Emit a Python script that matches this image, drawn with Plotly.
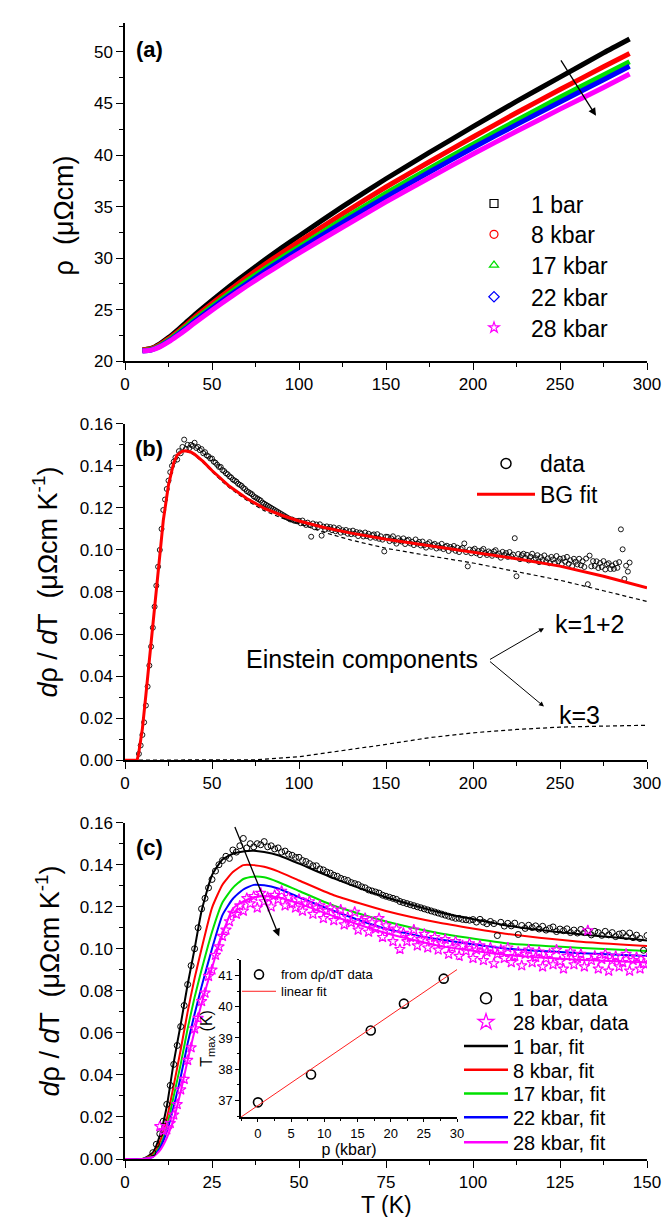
import plotly.graph_objects as go

# ---------------- Panel (a): rho(T) ----------------
T_a = [10, 15, 20, 25, 30, 35, 40, 50, 60, 70, 80, 90, 100, 125, 150, 175, 200, 225, 250, 275, 290]
rho_1bar = [21.1, 21.25, 21.7, 22.3, 23.0, 23.75, 24.5, 25.9, 27.25, 28.55, 29.8, 31.0, 32.15, 35.0, 37.7, 40.25, 42.75, 45.2, 47.55, 49.9, 51.25]
rho_8kbar = [21.1, 21.22, 21.62, 22.18, 22.83, 23.53, 24.25, 25.6, 26.9, 28.15, 29.35, 30.5, 31.6, 34.3, 36.9, 39.35, 41.75, 44.1, 46.35, 48.55, 49.85]
rho_17kbar = [21.05, 21.15, 21.52, 22.05, 22.68, 23.35, 24.05, 25.35, 26.6, 27.8, 28.95, 30.05, 31.1, 33.75, 36.3, 38.7, 41.05, 43.35, 45.6, 47.75, 49.05]
rho_22kbar = [21.0, 21.1, 21.45, 21.95, 22.55, 23.2, 23.88, 25.15, 26.38, 27.55, 28.7, 29.8, 30.85, 33.45, 35.95, 38.35, 40.7, 42.95, 45.15, 47.3, 48.6]
rho_28kbar = [21.0, 21.08, 21.4, 21.88, 22.45, 23.07, 23.72, 24.95, 26.15, 27.3, 28.4, 29.45, 30.5, 33.0, 35.45, 37.8, 40.1, 42.3, 44.45, 46.55, 47.85]
labels_a = ["1 bar", "8 kbar", "17 kbar", "22 kbar", "28 kbar"]

# ---------------- Panel (b)/(c): 1 bar drho/dT data (T = 8 ... 290 K, 1 K steps) ----------------
T_1bar = list(range(8, 291))
d_1bar = [
    # 8-17
    0.003, 0.007, 0.012, 0.018, 0.026, 0.035, 0.045, 0.054, 0.063, 0.073,
    # 18-27
    0.083, 0.092, 0.100, 0.110, 0.119, 0.124, 0.129, 0.133, 0.137, 0.140,
    # 28-37
    0.142, 0.144, 0.143, 0.147, 0.146, 0.149, 0.1525, 0.148, 0.150, 0.1485,
    # 38-47
    0.150, 0.1495, 0.151, 0.1485, 0.149, 0.1475, 0.148, 0.146, 0.1465, 0.145,
    # 48-57
    0.1445, 0.1435, 0.1435, 0.142, 0.1415, 0.1405, 0.1395, 0.1395, 0.138, 0.1375,
    # 58-67
    0.1365, 0.136, 0.135, 0.1345, 0.1335, 0.133, 0.1325, 0.1315, 0.131, 0.1305,
    # 68-77
    0.1295, 0.129, 0.128, 0.1275, 0.127, 0.1265, 0.1255, 0.125, 0.1245, 0.124,
    # 78-87
    0.1235, 0.1225, 0.122, 0.1215, 0.121, 0.1205, 0.120, 0.1195, 0.119, 0.1185,
    # 88-99
    0.118, 0.1175, 0.117, 0.1165, 0.116, 0.1155, 0.115, 0.1145, 0.1145, 0.114, 0.1138, 0.1136,
    # 100-109
    0.1139, 0.1127, 0.1140, 0.1127, 0.1119, 0.1130, 0.1120, 0.1063, 0.1126, 0.1108,
    # 110-119
    0.1121, 0.1109, 0.1122, 0.1068, 0.1111, 0.1097, 0.1112, 0.1101, 0.1109, 0.1094,
    # 120-129
    0.1107, 0.1089, 0.1097, 0.1104, 0.1082, 0.1094, 0.1086, 0.1095, 0.1077, 0.1089,
    # 130-139
    0.1075, 0.1092, 0.1077, 0.1085, 0.1066, 0.1083, 0.1077, 0.1064, 0.1083, 0.1066,
    # 140-150
    0.1077, 0.1058, 0.1070, 0.1074, 0.1058, 0.1075, 0.1053, 0.1065, 0.1049, 0.0993, 0.1063,
    # 151-160
    0.1062, 0.1042, 0.1055, 0.1065, 0.1043, 0.1030, 0.1056, 0.1045, 0.1040, 0.1055,
    # 161-170
    0.1028, 0.1045, 0.1049, 0.1031, 0.1039, 0.1023, 0.1050, 0.1030, 0.1038, 0.1021,
    # 171-180
    0.1040, 0.1023, 0.1011, 0.1029, 0.1037, 0.1015, 0.1024, 0.1029, 0.1007, 0.1021,
    # 181-190
    0.1011, 0.1029, 0.1004, 0.1015, 0.1020, 0.0995, 0.1014, 0.1006, 0.1019, 0.0996,
    # 191-200
    0.1011, 0.0990, 0.1004, 0.1010, 0.1031, 0.0990, 0.0922, 0.1002, 0.0984, 0.0999,
    # 201-210
    0.1006, 0.0984, 0.0995, 0.0975, 0.0998, 0.1005, 0.0985, 0.0976, 0.0993, 0.0986,
    # 211-220
    0.0972, 0.0993, 0.0999, 0.0975, 0.0983, 0.0963, 0.0991, 0.0976, 0.0985, 0.0967,
    # 221-230
    0.0990, 0.0970, 0.0978, 0.1056, 0.0875, 0.0981, 0.0956, 0.0975, 0.0982, 0.0962,
    # 231-240
    0.0977, 0.0950, 0.0968, 0.0982, 0.0954, 0.0961, 0.0975, 0.0942, 0.0966, 0.0952,
    # 241-250
    0.0974, 0.0946, 0.0960, 0.0937, 0.0967, 0.0955, 0.0939, 0.0971, 0.0946, 0.0958,
    # 251-260
    0.0932, 0.0961, 0.0944, 0.0967, 0.0934, 0.0951, 0.0923, 0.0958, 0.0944, 0.0931,
    # 261-270
    0.0958, 0.0927, 0.0946, 0.0919, 0.0959, 0.0837, 0.0973, 0.0922, 0.0947, 0.0924,
    # 271-280
    0.0946, 0.0914, 0.0938, 0.0919, 0.0947, 0.0907, 0.0932, 0.0937, 0.0909, 0.0926,
    # 281-290
    0.0910, 0.0936, 0.0915, 0.0942, 0.1098, 0.1003, 0.0862, 0.0925, 0.0897, 0.0940,
]

# BG fit and Einstein components (panel b)
T_bg = [0, 5, 7, 8, 10, 12, 15, 18, 20, 22, 25, 28, 30, 33, 35, 38, 40, 45, 50, 55, 60, 70, 80, 90, 100, 115, 130, 150, 175, 200, 225, 250, 275, 300]
bg_fit = [0, 0, 0, 0.004, 0.015, 0.031, 0.056, 0.083, 0.100, 0.114, 0.131, 0.1415, 0.1452, 0.1470, 0.1472, 0.1465, 0.1455, 0.142, 0.1378, 0.1338, 0.1303, 0.1245, 0.1198, 0.1165, 0.1138, 0.1106, 0.108, 0.1051, 0.102, 0.0990, 0.0958, 0.0923, 0.0875, 0.082]
ein_k12 = [0, 0, 0, 0.004, 0.015, 0.031, 0.056, 0.083, 0.100, 0.114, 0.131, 0.1415, 0.1452, 0.1468, 0.1469, 0.1461, 0.145, 0.1415, 0.1373, 0.1332, 0.1296, 0.1236, 0.1187, 0.1152, 0.1125, 0.1082, 0.1047, 0.1008, 0.0972, 0.0938, 0.0897, 0.0856, 0.0806, 0.0755]
T_k3 = [0, 50, 75, 100, 125, 150, 175, 200, 225, 250, 275, 300]
ein_k3 = [0, 0, 0.0002, 0.0016, 0.0044, 0.0075, 0.0107, 0.013, 0.0146, 0.0157, 0.0162, 0.0166]

# ---------------- Panel (c): 28 kbar data and fits ----------------
T_28 = list(range(10, 151))
d_28 = [
    # 10-19
    0.0155, 0.0135, 0.014, 0.017, 0.021, 0.026, 0.033, 0.038, 0.047, 0.053,
    # 20-29
    0.062, 0.067, 0.075, 0.079, 0.087, 0.090, 0.097, 0.101, 0.106, 0.109,
    # 30-39
    0.113, 0.117, 0.1165, 0.1205, 0.118, 0.124, 0.1215, 0.125, 0.1195, 0.1265,
    # 40-49
    0.1225, 0.1245, 0.120, 0.1255, 0.1235, 0.1275, 0.1205, 0.1245, 0.1215, 0.1195,
    # 50-59
    0.1235, 0.118, 0.1215, 0.1225, 0.1165, 0.1195, 0.1205, 0.1145, 0.118, 0.1195,
    # 60-69
    0.1135, 0.1165, 0.1185, 0.1115, 0.115, 0.1125, 0.1175, 0.109, 0.1135, 0.1145,
    # 70-79
    0.108, 0.1125, 0.1095, 0.1145, 0.1055, 0.111, 0.1085, 0.1035, 0.1095, 0.0998,
    # 80-89
    0.1075, 0.1035, 0.1055, 0.109, 0.1015, 0.1045, 0.107, 0.1005, 0.1035, 0.1055,
    # 90-99
    0.0995, 0.1025, 0.1045, 0.0975, 0.1005, 0.1035, 0.0965, 0.1015, 0.099, 0.1025,
    # 100-109
    0.0955, 0.0995, 0.1015, 0.0945, 0.0985, 0.1005, 0.093, 0.0975, 0.0995, 0.0955,
    # 110-119
    0.1005, 0.0935, 0.0965, 0.0985, 0.092, 0.0975, 0.0995, 0.0935, 0.096, 0.0985,
    # 120-129
    0.0915, 0.0955, 0.0975, 0.0925, 0.0995, 0.094, 0.0905, 0.0965, 0.0985, 0.0925,
    # 130-139
    0.0955, 0.0975, 0.0915, 0.1087, 0.0945, 0.0965, 0.0905, 0.095, 0.0975, 0.0895,
    # 140-150
    0.0945, 0.0965, 0.0915, 0.0935, 0.0975, 0.0895, 0.0945, 0.096, 0.0905, 0.093, 0.0955,
]

T_fit = [0, 5, 8, 10, 12, 14, 16, 18, 20, 22, 25, 28, 31, 34, 37, 40, 44, 50, 60, 75, 90, 110, 130, 150]
fit_1bar = [0, 0, 0.003, 0.011, 0.025, 0.046, 0.064, 0.083, 0.100, 0.118, 0.135, 0.1425, 0.1452, 0.1463, 0.1466, 0.146, 0.1445, 0.1405, 0.1335, 0.1245, 0.1175, 0.111, 0.107, 0.104]
fit_8kbar = [0, 0, 0.002, 0.008, 0.019, 0.035, 0.052, 0.070, 0.086, 0.100, 0.1195, 0.1305, 0.1365, 0.1398, 0.1398, 0.139, 0.1368, 0.1325, 0.1255, 0.118, 0.1125, 0.107, 0.1035, 0.1013]
fit_17kbar = [0, 0, 0.0015, 0.006, 0.015, 0.030, 0.045, 0.062, 0.077, 0.090, 0.108, 0.122, 0.129, 0.1332, 0.1343, 0.134, 0.1318, 0.1275, 0.1205, 0.113, 0.1075, 0.1025, 0.1005, 0.099]
fit_22kbar = [0, 0, 0.001, 0.005, 0.013, 0.025, 0.039, 0.055, 0.069, 0.082, 0.100, 0.116, 0.1238, 0.1282, 0.1304, 0.1302, 0.1287, 0.1245, 0.118, 0.1095, 0.1045, 0.100, 0.098, 0.0966]
fit_28kbar = [0, 0, 0.001, 0.004, 0.010, 0.019, 0.032, 0.047, 0.061, 0.074, 0.091, 0.107, 0.119, 0.1225, 0.1245, 0.125, 0.1245, 0.1215, 0.1155, 0.1075, 0.1015, 0.097, 0.0948, 0.0935]
labels_c_fit = ["1 bar, fit", "8 kbar, fit", "17 kbar, fit", "22 kbar, fit", "28 kbar, fit"]

# ---------------- Inset: Tmax vs p ----------------
p_kbar = [0, 8, 17, 22, 28]
Tmax = [36.94, 37.83, 39.24, 40.10, 40.90]
fit_p = [-2.56, 30]
fit_intercept = 36.84
fit_slope = 0.145

# ---------------- styling ----------------
FONT = "Arial, Liberation Sans, Helvetica, sans-serif"
colors = ["#000000", "#ff0000", "#00e000", "#0000ff", "#ff00ff"]
symbols = ["square-open", "circle-open", "triangle-up-open", "diamond-open", "star-open"]

W, H = 672, 1217
ML, MR, MT, MB = 117, 33, 6, 66
PW, PH = W - ML - MR, H - MT - MB


def px(xp):
    return (xp - ML) / PW


def py(yp):
    return 1 - (yp - MT) / PH


fig = go.Figure()
legends = {}
leg_count = [0]


def new_legend(left, center, size, itemwidth):
    leg_count[0] += 1
    name = "legend" if leg_count[0] == 1 else "legend%d" % leg_count[0]
    legends[name] = dict(x=px(left), y=py(center), xanchor="left", yanchor="middle", bgcolor="rgba(0,0,0,0)",
                         borderwidth=0, itemwidth=itemwidth, font=dict(family=FONT, size=size, color="black"))
    return name


# panel a
for rho, c in zip([rho_1bar, rho_8kbar, rho_17kbar, rho_22kbar, rho_28kbar], colors):
    fig.add_trace(go.Scatter(x=T_a, y=rho, mode="lines", line=dict(color=c, width=5, shape="spline", smoothing=0.6),
                             showlegend=False, xaxis="x", yaxis="y"))
for c, lab, sym, row in zip(colors, labels_a, symbols, [188, 219, 250, 282, 313]):
    fig.add_trace(go.Scatter(x=[None], y=[None], mode="markers", name=lab,
                             marker=dict(symbol=sym, color=c, size=8, line=dict(width=1.2, color=c)),
                             legend=new_legend(449, row, 23, 64), xaxis="x", yaxis="y"))

# panel b
fig.add_trace(go.Scatter(x=T_bg, y=ein_k12, mode="lines", line=dict(color="black", width=1.2, dash="4px,3px"),
                         showlegend=False, xaxis="x2", yaxis="y2"))
fig.add_trace(go.Scatter(x=T_k3, y=ein_k3, mode="lines", line=dict(color="black", width=1.2, dash="4px,3px"),
                         showlegend=False, xaxis="x2", yaxis="y2"))
fig.add_trace(go.Scatter(x=T_1bar, y=d_1bar, mode="markers",
                         marker=dict(symbol="circle-open", color="black", size=5, line=dict(width=0.9)),
                         showlegend=False, xaxis="x2", yaxis="y2"))
fig.add_trace(go.Scatter(x=T_bg, y=bg_fit, mode="lines", line=dict(color="#ff0000", width=3),
                         showlegend=False, xaxis="x2", yaxis="y2"))
fig.add_trace(go.Scatter(x=[None], y=[None], mode="markers", name="data",
                         marker=dict(symbol="circle-open", color="black", size=10, line=dict(width=1.5)),
                         legend=new_legend(464, 450, 23, 58), xaxis="x2", yaxis="y2"))
fig.add_trace(go.Scatter(x=[None], y=[None], mode="lines", name="BG fit",
                         line=dict(color="#ff0000", width=3), legend=new_legend(464, 481, 23, 58),
                         xaxis="x2", yaxis="y2"))

# panel c
for fy, c in zip([fit_1bar, fit_8kbar, fit_17kbar, fit_22kbar, fit_28kbar], colors):
    fig.add_trace(go.Scatter(x=T_fit, y=fy, mode="lines", line=dict(color=c, width=2, shape="spline", smoothing=0.5),
                             showlegend=False, xaxis="x3", yaxis="y3"))
fig.add_trace(go.Scatter(x=T_1bar, y=d_1bar, mode="markers",
                         marker=dict(symbol="circle-open", color="black", size=6, line=dict(width=1)),
                         showlegend=False, xaxis="x3", yaxis="y3"))
fig.add_trace(go.Scatter(x=T_28, y=d_28, mode="markers",
                         marker=dict(symbol="star-open", color="#ff00ff", size=8, line=dict(width=1.2)),
                         showlegend=False, xaxis="x3", yaxis="y3"))
rows_c = [989, 1013, 1037, 1061, 1085, 1109, 1134]
fig.add_trace(go.Scatter(x=[None], y=[None], mode="markers", name="1 bar, data",
                         marker=dict(symbol="circle-open", color="black", size=11, line=dict(width=1.5)),
                         legend=new_legend(451, rows_c[0], 20, 44), xaxis="x3", yaxis="y3"))
fig.add_trace(go.Scatter(x=[None], y=[None], mode="markers", name="28 kbar, data",
                         marker=dict(symbol="star-open", color="#ff00ff", size=12, line=dict(width=1.3)),
                         legend=new_legend(451, rows_c[1], 20, 44), xaxis="x3", yaxis="y3"))
for c, lab, row in zip(colors, labels_c_fit, rows_c[2:]):
    fig.add_trace(go.Scatter(x=[None], y=[None], mode="lines", name=lab, line=dict(color=c, width=2.5),
                             legend=new_legend(451, row, 20, 44), xaxis="x3", yaxis="y3"))

# inset
fig.add_trace(go.Scatter(x=p_kbar, y=Tmax, mode="markers", name="from d\u03c1/dT data",
                         marker=dict(symbol="circle-open", color="black", size=9, line=dict(width=1.6)),
                         legend=new_legend(229, 965, 13, 34), xaxis="x4", yaxis="y4"))
fig.add_trace(go.Scatter(x=fit_p, y=[fit_intercept + fit_slope * p for p in fit_p], mode="lines", name="linear fit",
                         line=dict(color="#ff2020", width=1), legend=new_legend(229, 982, 13, 34),
                         xaxis="x4", yaxis="y4"))

# axes
tickfont = dict(family=FONT, size=17, color="black")


def main_axis(rng, dtick, minor_dtick, domain, anchor, tick0=None, fmt=None, font=tickfont, tl=7, mtl=4):
    d = dict(range=rng, dtick=dtick, domain=domain, anchor=anchor, showline=True, linecolor="black", linewidth=1.5,
             ticks="outside", ticklen=tl, tickwidth=1.3, tickcolor="black", showgrid=False, zeroline=False,
             tickfont=font, minor=dict(ticks="outside", ticklen=mtl, tickwidth=1.1, tickcolor="black", dtick=minor_dtick,
                                       showgrid=False))
    if tick0 is not None:
        d["tick0"] = tick0
        d["minor"]["tick0"] = tick0
    if fmt:
        d["tickformat"] = fmt
    return d


def mirror_axis(rng, dtick, minor_dtick, overlaying, anchor, side, tick0=None, tl=7, mtl=4):
    d = dict(range=rng, dtick=dtick, overlaying=overlaying, anchor=anchor, side=side, showline=True, linecolor="black",
             linewidth=1.5, ticks="inside", ticklen=tl, tickwidth=1.3, tickcolor="black", showgrid=False,
             zeroline=False, showticklabels=False,
             minor=dict(ticks="inside", ticklen=mtl, tickwidth=1.1, tickcolor="black", dtick=minor_dtick, showgrid=False))
    if tick0 is not None:
        d["tick0"] = tick0
        d["minor"]["tick0"] = tick0
    return d


dom_a = [py(347), 1.0]
dom_b = [py(749), py(410)]
dom_c = [0.0, py(812)]
ins_x = [px(233), px(449)]
ins_y = [py(1109), py(950)]

xr_a, yr_a = [0, 300], [20, 52.8]
xr_b, yr_b = [0, 300], [0, 0.16]
xr_c, yr_c = [0, 150], [0, 0.16]
xr_i, yr_i = [-2.56, 30], [36.46, 41.51]
ins_font = dict(family=FONT, size=13, color="black")

fig.update_layout(
    xaxis=main_axis(xr_a, 50, 25, [0, 1], "y"),
    yaxis=main_axis(yr_a, 5, 2.5, dom_a, "x", tick0=20),
    xaxis2=main_axis(xr_b, 50, 25, [0, 1], "y2"),
    yaxis2=main_axis(yr_b, 0.02, 0.01, dom_b, "x2", tick0=0, fmt=".2f"),
    xaxis3=main_axis(xr_c, 25, 12.5, [0, 1], "y3"),
    yaxis3=main_axis(yr_c, 0.02, 0.01, dom_c, "x3", tick0=0, fmt=".2f"),
    xaxis4=main_axis(xr_i, 5, 2.5, ins_x, "y4", tick0=0, font=ins_font, tl=3, mtl=2),
    yaxis4=main_axis(yr_i, 1, 0.5, ins_y, "x4", tick0=37, font=ins_font, tl=4, mtl=2),
    xaxis5=mirror_axis(xr_a, 50, 25, "x", "y", "top"),
    yaxis5=mirror_axis(yr_a, 5, 2.5, "y", "x", "right", tick0=20),
    xaxis6=mirror_axis(xr_b, 50, 25, "x2", "y2", "top"),
    yaxis6=mirror_axis(yr_b, 0.02, 0.01, "y2", "x2", "right", tick0=0),
    xaxis7=mirror_axis(xr_c, 25, 12.5, "x3", "y3", "top"),
    yaxis7=mirror_axis(yr_c, 0.02, 0.01, "y3", "x3", "right", tick0=0),
    xaxis8=mirror_axis(xr_i, 5, 2.5, "x4", "y4", "top", tick0=0, tl=4, mtl=2),
    yaxis8=mirror_axis(yr_i, 1, 0.5, "y4", "x4", "right", tick0=37, tl=4, mtl=2),
)
fig.layout.xaxis4.title = dict(text="p (kbar)", font=dict(family=FONT, size=16, color="black"), standoff=0)
fig.layout.yaxis4.title = dict(text="T<sub>max</sub> (K)", font=dict(family=FONT, size=16, color="black"), standoff=2)

fig.update_layout(**legends)

ann = []
ann_font = dict(family=FONT, size=25, color="black")
ytitle_font = dict(family=FONT, size=27, color="black")
# panel labels
for lab, ypx in [("(a)", 33), ("(b)", 435), ("(c)", 837)]:
    ann.append(dict(text="<b>%s</b>" % lab, x=px(141), y=py(ypx), xref="paper", yref="paper", showarrow=False,
                    font=dict(family=FONT, size=22, color="black"), xanchor="center", yanchor="middle"))
# axis titles
ann.append(dict(text="\u03c1  (\u03bc\u03a9cm)", x=px(56), y=py(200), xref="paper", yref="paper", showarrow=False,
                textangle=-90, font=ytitle_font, xanchor="center", yanchor="middle"))
ann.append(dict(text="<i>d</i>\u03c1 / <i>d</i>T  (\u03bc\u03a9cm K<sup>-1</sup>)", x=px(37), y=py(570), xref="paper",
                yref="paper", showarrow=False, textangle=-90, font=ytitle_font, xanchor="center", yanchor="middle"))
ann.append(dict(text="<i>d</i>\u03c1 / <i>d</i>T  (\u03bc\u03a9cm K<sup>-1</sup>)", x=px(40), y=py(972), xref="paper",
                yref="paper", showarrow=False, textangle=-90, font=ytitle_font, xanchor="center", yanchor="middle"))
ann.append(dict(text="T (K)", x=px(378), y=py(1197), xref="paper", yref="paper", showarrow=False,
                font=dict(family=FONT, size=23, color="black"), xanchor="center", yanchor="middle"))
# arrows
ann.append(dict(x=270.7, y=43.8, ax=250, ay=49.33, xref="x", yref="y", axref="x", ayref="y", text="",
                showarrow=True, arrowhead=2, arrowsize=1.2, arrowwidth=1.3, arrowcolor="black"))
ann.append(dict(x=44.3, y=0.1059, ax=31.4, ay=0.1586, xref="x3", yref="y3", axref="x3", ayref="y3", text="",
                showarrow=True, arrowhead=2, arrowsize=1.2, arrowwidth=1.3, arrowcolor="black"))
ann.append(dict(x=240.8, y=0.0628, ax=208.9, ay=0.0475, xref="x2", yref="y2", axref="x2", ayref="y2", text="",
                showarrow=True, arrowhead=2, arrowsize=1, arrowwidth=1, arrowcolor="black"))
ann.append(dict(x=240.8, y=0.0255, ax=208.9, ay=0.0475, xref="x2", yref="y2", axref="x2", ayref="y2", text="",
                showarrow=True, arrowhead=2, arrowsize=1, arrowwidth=1, arrowcolor="black"))
ann.append(dict(text="Einstein components", x=136, y=0.0481, xref="x2", yref="y2", showarrow=False, font=ann_font,
                xanchor="center", yanchor="middle"))
ann.append(dict(text="k=1+2", x=267, y=0.0647, xref="x2", yref="y2", showarrow=False, font=ann_font,
                xanchor="center", yanchor="middle"))
ann.append(dict(text="k=3", x=261, y=0.0217, xref="x2", yref="y2", showarrow=False, font=ann_font,
                xanchor="center", yanchor="middle"))

fig.update_layout(
    width=W, height=H, margin=dict(l=ML, r=MR, t=MT, b=MB), paper_bgcolor="white", plot_bgcolor="white",
    font=dict(family=FONT, color="black"), annotations=ann,
)

fig.write_html("out.html")
